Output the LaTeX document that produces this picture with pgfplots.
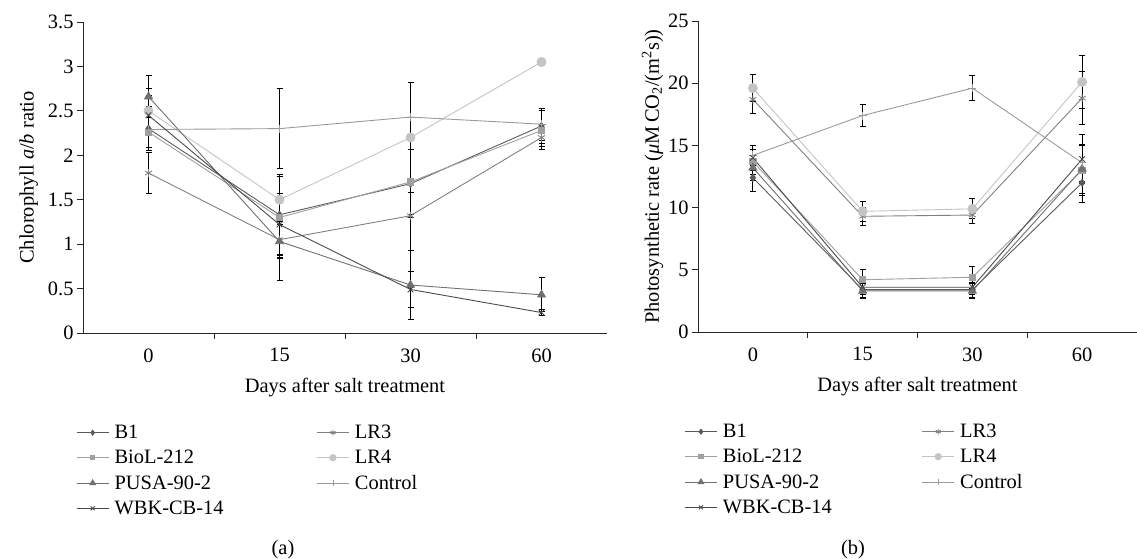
\documentclass[border=0pt]{standalone}
\usepackage{fontspec}
\setmainfont{Liberation Serif}
\usepackage{pgfplots}
\pgfplotsset{compat=1.18}
\definecolor{cB}{HTML}{5A5A5A}
\definecolor{cBioL}{HTML}{A0A0A0}
\definecolor{cPUSA}{HTML}{707070}
\definecolor{cWBK}{HTML}{4A4A4A}
\definecolor{cLRt}{HTML}{808080}
\definecolor{cLRf}{HTML}{C4C4C4}
\definecolor{cCtl}{HTML}{9A9A9A}
\pgfplotsset{
  common/.style={
    scale only axis,
    axis x line*=bottom, axis y line*=left,
    axis line style={black!85, -, line width=0.8pt},
    xmin=-0.5, xmax=3.5,
    xtick={0,1,2,3}, xticklabels={0,15,30,60},
    major x tick style={draw=none},
    minor xtick={0.5,1.5,2.5},
    tick align=outside,
    major tick length=6bp, minor tick length=6bp,
    every tick/.style={black!85, line width=0.8pt},
    /pgf/number format/assume math mode=true,
    xlabel={Days after salt treatment},
    xticklabel style={yshift=-6bp},
    xlabel style={yshift=-9bp},
    legend columns=2,
    legend cell align=left,
    legend style={draw=none, fill=none, anchor=north west,
      row sep=6bp,
      /tikz/column 1/.style={column sep=3.5bp},
      /tikz/column 3/.style={column sep=3.5bp}},
    legend image code/.code={\draw[mark repeat=2,mark phase=2,/tikz/every mark/.append style={scale=0.7}] plot coordinates {(0bp,0bp)(16bp,0bp)(32bp,0bp)};},
    error bars/y dir=both, error bars/y explicit,
    error bars/error bar style={black, line width=1pt},
    error bars/error mark options={rotate=90, mark size=3bp, black, line width=1pt},
  },
  sB/.style={color=cB, line width=0.9pt, mark=diamond*, mark size=3.5bp},
  sBioL/.style={color=cBioL, line width=0.9pt, mark=square*, mark size=3.2bp},
  sPUSA/.style={color=cPUSA, line width=0.9pt, mark=triangle*, mark size=4.5bp},
  sWBK/.style={color=cWBK, line width=0.9pt, mark=x, mark size=4bp},
  sLRt/.style={color=cLRt, line width=0.9pt, mark=asterisk, mark size=4bp},
  sLRf/.style={color=cLRf, line width=0.9pt, mark=*, mark size=4.5bp},
  sCtl/.style={color=cCtl, line width=0.9pt, mark=+, mark size=4bp},
}
\begin{document}
\begin{tikzpicture}[x=1bp,y=1bp,font=\fontsize{20.5}{24}\selectfont]
\useasboundingbox (0,0) rectangle (1137,559);
% ---------------- panel (a)
\begin{axis}[common,
  at={(83bp,226bp)}, anchor=south west,
  width=524bp, height=311bp,
  ymin=0, ymax=3.5, ytick={0,0.5,1,1.5,2,2.5,3,3.5},
  ylabel={Chlorophyll \textit{a}/\textit{b} ratio},
  ylabel style={yshift=3bp},
  legend style={at={(-0.019,-0.283)}, /tikz/column 2/.style={column sep=91bp}},
]
\addplot[sB] coordinates {(0,2.30)+-(0,0.25) (1,1.33)+-(0,0.45) (2,1.68)+-(0,0.38) (3,2.33)+-(0,0.20)};
\addlegendentry{B1}
\addplot[sLRt] coordinates {(0,1.80)+-(0,0.23) (1,1.05)+-(0,0.20) (2,1.32)+-(0,0.39) (3,2.20)+-(0,0.10)};
\addlegendentry{LR3}
\addplot[sBioL] coordinates {(0,2.26)+-(0,0.21) (1,1.30)+-(0,0.46) (2,1.70)+-(0,0.37) (3,2.28)+-(0,0.22)};
\addlegendentry{BioL-212}
\addplot[sLRf] coordinates {(0,2.50)+-(0,0.25) (1,1.50)+-(0,0.28) (2,2.20)+-(0,0.62) (3,3.05)+-(0,0)};
\addlegendentry{LR4}
\addplot[sPUSA] coordinates {(0,2.66)+-(0,0.24) (1,1.03)+-(0,0.44) (2,0.54)+-(0,0.39) (3,0.43)+-(0,0.19)};
\addlegendentry{PUSA-90-2}
\addplot[sCtl] coordinates {(0,2.29)+-(0,0.20) (1,2.30)+-(0,0.45) (2,2.43)+-(0,0.00) (3,2.35)+-(0,0.18)};
\addlegendentry{Control}
\addplot[sWBK] coordinates {(0,2.45)+-(0,0.22) (1,1.22)+-(0,0.35) (2,0.49)+-(0,0.20) (3,0.23)+-(0,0.03)};
\addlegendentry{WBK-CB-14}
\end{axis}
% ---------------- panel (b)
\begin{axis}[common,
  at={(698bp,227bp)}, anchor=south west,
  width=439bp, height=311bp,
  ymin=0, ymax=25, ytick={0,5,10,15,20,25},
  ylabel={Photosynthetic rate (\textit{μ}M\,CO\textsubscript{2}/(m\textsuperscript{2}s))},
  ylabel style={yshift=-2bp},
  legend style={at={(-0.038,-0.283)}, /tikz/column 2/.style={column sep=88bp}},
]
\addplot[sB] coordinates {(0,12.4)+-(0,1.1) (1,3.4)+-(0,0.6) (2,3.4)+-(0,0.6) (3,12.0)+-(0,1.6)};
\addlegendentry{B1}
\addplot[sLRt] coordinates {(0,18.7)+-(0,1.1) (1,9.3)+-(0,0.7) (2,9.4)+-(0,0.7) (3,18.8)+-(0,2.1)};
\addlegendentry{LR3}
\addplot[sBioL] coordinates {(0,13.7)+-(0,1.0) (1,4.2)+-(0,0.8) (2,4.4)+-(0,0.9) (3,13.0)+-(0,2.0)};
\addlegendentry{BioL-212}
\addplot[sLRf] coordinates {(0,19.6)+-(0,1.1) (1,9.7)+-(0,0.8) (2,9.9)+-(0,0.8) (3,20.1)+-(0,2.1)};
\addlegendentry{LR4}
\addplot[sPUSA] coordinates {(0,13.2)+-(0,1.0) (1,3.3)+-(0,0.6) (2,3.3)+-(0,0.6) (3,13.1)+-(0,2.0)};
\addlegendentry{PUSA-90-2}
\addplot[sCtl] coordinates {(0,14.2)+-(0,0.8) (1,17.4)+-(0,0.9) (2,19.6)+-(0,1.0) (3,13.6)+-(0,1.5)};
\addlegendentry{Control}
\addplot[sWBK] coordinates {(0,14.0)+-(0,1.0) (1,3.6)+-(0,0.6) (2,3.6)+-(0,0.6) (3,13.9)+-(0,2.0)};
\addlegendentry{WBK-CB-14}
\end{axis}
\node[anchor=base] at (283,4) {(a)};
\node[anchor=base] at (853,4) {(b)};
\end{tikzpicture}
\end{document}
